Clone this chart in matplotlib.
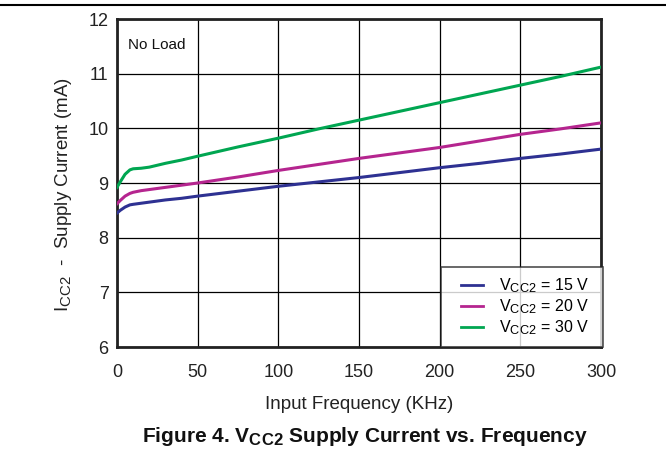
import matplotlib
matplotlib.use("Agg")
import matplotlib.pyplot as plt
from matplotlib.lines import Line2D
from matplotlib.legend_handler import HandlerLine2D
try:
    import matplotlib._mathtext as _mt
    _mt.SHRINK_FACTOR = 0.8
except Exception:
    pass

plt.rcParams['font.family'] = ['Liberation Sans', 'DejaVu Sans']
plt.rcParams['mathtext.fontset'] = 'custom'
plt.rcParams['mathtext.rm'] = 'Liberation Sans'
plt.rcParams['mathtext.bf'] = 'Liberation Sans:bold'

freq = [0, 2, 5, 8, 10, 15, 20, 30, 40, 50, 75, 100, 125, 150, 175, 200, 225, 250, 275, 300]
i_15v = [8.45, 8.50, 8.56, 8.60, 8.61, 8.63, 8.65, 8.69, 8.72, 8.76, 8.85, 8.94, 9.02, 9.10, 9.19, 9.28, 9.36, 9.45, 9.53, 9.62]
i_20v = [8.62, 8.68, 8.76, 8.81, 8.83, 8.86, 8.88, 8.92, 8.96, 9.00, 9.11, 9.23, 9.34, 9.45, 9.55, 9.65, 9.77, 9.89, 9.99, 10.10]
i_30v = [8.92, 9.02, 9.16, 9.24, 9.26, 9.27, 9.29, 9.36, 9.42, 9.49, 9.66, 9.82, 9.99, 10.15, 10.31, 10.47, 10.63, 10.79, 10.95, 11.12]

series = [
    (i_15v, '#2e3192', r'V$_\mathregular{CC2}$ = 15 V  '),
    (i_20v, '#b5258f', r'V$_\mathregular{CC2}$ = 20 V  '),
    (i_30v, '#00a651', r'V$_\mathregular{CC2}$ = 30 V  '),
]

x_ticks = [0, 50, 100, 150, 200, 250, 300]
y_ticks = [6, 7, 8, 9, 10, 11, 12]

fig = plt.figure(figsize=(6.66, 4.51), dpi=100)
ax = fig.add_axes([117/666, 1-347/451, (601-117)/666, (347-19)/451])

for ys, c, lab in series:
    ax.plot(freq, ys, color=c, lw=2.2, label=lab, zorder=3)

ax.set_xlim(0, 300)
ax.set_ylim(6, 12)
ax.set_xticks(x_ticks)
ax.set_yticks(y_ticks)
ax.tick_params(length=0, labelsize=13, colors='#222222')
ax.tick_params(axis='x', pad=12)
ax.tick_params(axis='y', pad=6)
ax.grid(True, color='black', lw=0.9, zorder=1)
for s in ax.spines.values():
    s.set_linewidth(2.0)
    s.set_color('#222222')

ax.set_xlabel('Input Frequency (KHz)', fontsize=13.5, labelpad=11, color='#222222')
ax.set_ylabel(r'I$_\mathregular{CC2}$  -  Supply Current (mA)', fontsize=13.5, color='#222222')
ax.yaxis.set_label_coords(-0.088, 0.465)

ax.text(0.022, 0.92, 'No Load', transform=ax.transAxes, fontsize=11, va='center', ha='left', color='#111111')

leg = ax.legend(loc='lower right', bbox_to_anchor=(1.004, 0.0), fontsize=11.5, frameon=True, fancybox=False,
                borderaxespad=0, handlelength=2.0, handletextpad=1.0,
                labelspacing=0.15, borderpad=0.6,
                handler_map={Line2D: HandlerLine2D(xpad=0.6)})
leg.get_frame().set_edgecolor('#222222')
leg.get_frame().set_linewidth(1.2)
for h in leg.get_lines():
    h.set_linewidth(2.0)

fig.add_artist(Line2D([0, 1], [1-5/451, 1-5/451], color='black', lw=1.5, transform=fig.transFigure))

fig.text(365/666, 1-437/451, r'Figure 4. V$_\mathbf{CC2}$ Supply Current vs. Frequency',
         ha='center', va='center', fontsize=15, fontweight='bold', color='#111111')

fig.savefig('out.png', dpi=100)
